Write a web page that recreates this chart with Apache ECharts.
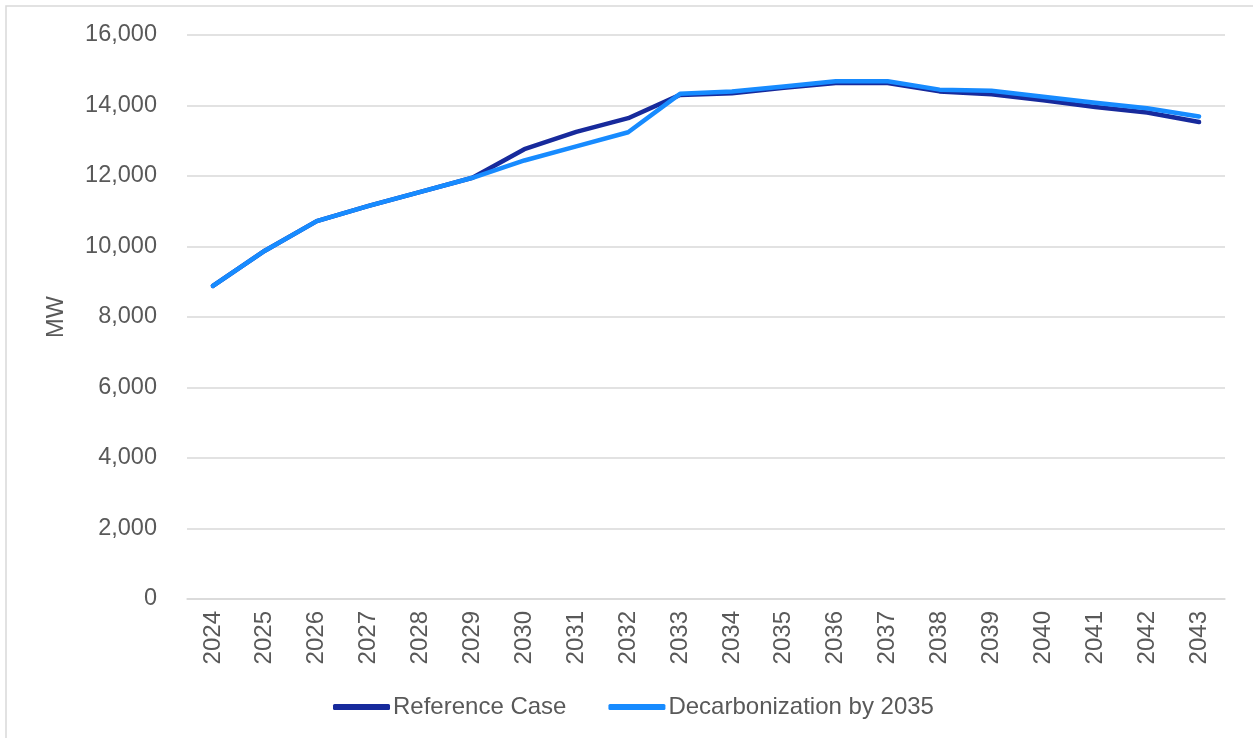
<!DOCTYPE html>
<html><head><meta charset="utf-8">
<script src="https://cdn.jsdelivr.net/npm/echarts@6/dist/echarts.min.js"></script>
<style>html,body{margin:0;padding:0;background:#fff}#c{width:1253px;height:738px}</style>
</head><body><div id="c"></div>
<script>
const years = ['2024','2025','2026','2027','2028','2029','2030','2031','2032','2033','2034','2035','2036','2037','2038','2039','2040','2041','2042','2043'];
const referenceCase = [8880,9880,10720,11150,11550,11950,12760,13250,13640,14300,14350,14500,14640,14640,14400,14320,14150,13960,13800,13530];
const decarb2035 = [8880,9880,10720,11150,11550,11950,12440,12840,13240,14330,14400,14540,14690,14690,14450,14420,14250,14080,13920,13690];
const yTicks = {min:0, max:16000, interval:2000};
const chart = echarts.init(document.getElementById('c'));
const font = 'Liberation Sans, Arial, sans-serif';
chart.setOption({
  animation:false,
  graphic:[{type:'rect',shape:{x:6,y:6,width:1300,height:800},style:{fill:'none',stroke:'#d9d9d9',lineWidth:1.5},silent:true}],
  grid:{left:187,right:28,top:35,bottom:139},
  legend:{top:690,left:328,itemWidth:57,itemHeight:6,itemGap:42,icon:'roundRect',
    textStyle:{fontFamily:font,fontSize:24,color:'#595959',padding:[0,0,0,-2]},
    data:['Reference Case','Decarbonization by 2035']},
  xAxis:{type:'category',data:years,boundaryGap:true,
    axisLine:{lineStyle:{color:'#d9d9d9',width:1.5}},axisTick:{show:false},
    axisLabel:{rotate:90,fontFamily:font,fontSize:24,color:'#595959',margin:12,interval:0}},
  yAxis:{type:'value',min:yTicks.min,max:yTicks.max,interval:yTicks.interval,name:'MW',nameLocation:'middle',nameGap:118,nameRotate:90,
    nameTextStyle:{fontFamily:font,fontSize:23.5,color:'#595959'},
    axisLabel:{fontFamily:font,fontSize:23.5,color:'#595959',margin:30,formatter:v=>v.toLocaleString('en-US')},
    splitLine:{lineStyle:{color:'#d9d9d9',width:1.5}},axisLine:{show:false},axisTick:{show:false}},
  series:[
    {name:'Reference Case',type:'line',data:referenceCase,showSymbol:false,symbol:'none',lineStyle:{color:'#172a9c',width:4.5,cap:'round',join:'round'},itemStyle:{color:'#172a9c'}},
    {name:'Decarbonization by 2035',type:'line',data:decarb2035,showSymbol:false,symbol:'none',lineStyle:{color:'#178bff',width:4.5,cap:'round',join:'round'},itemStyle:{color:'#178bff'}}
  ]
});
</script></body></html>
